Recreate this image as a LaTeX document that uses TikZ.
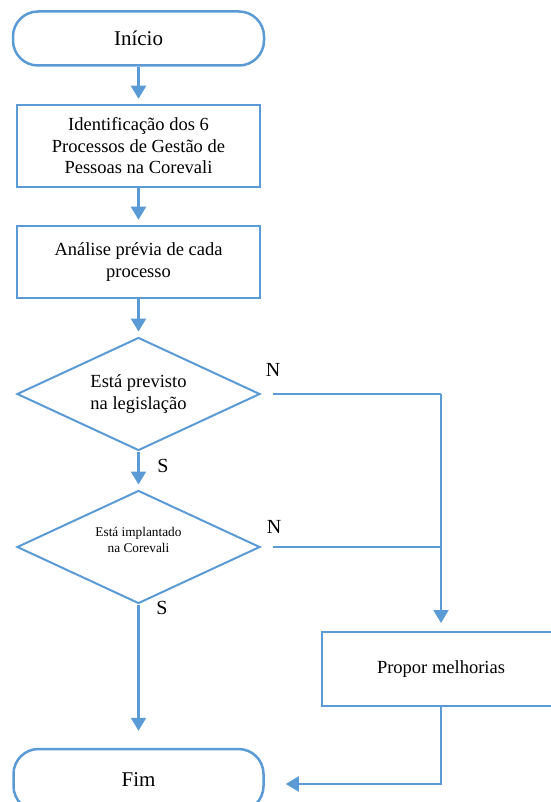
\documentclass[tikz,border=0pt]{standalone}
\usepackage{fontspec}
\setmainfont{Liberation Serif}
\usepackage{tikz}
\usetikzlibrary{shapes.geometric}
\usetikzlibrary{arrows.meta}
\definecolor{flowblue}{HTML}{5B9BD5}
\newcommand\bodyfont[0]{\fontsize{18.5}{21.5}\selectfont}

\tikzset{
  terminal/.style={draw=flowblue, line width=2.5pt, rounded corners=25pt, minimum width=251pt, minimum height=54pt, inner sep=0pt, font=\fontsize{21}{24}\selectfont},
  process/.style={draw=flowblue, line width=2.5pt, minimum width=243pt, inner sep=0pt, align=center, font=\bodyfont},
  decision/.style={draw=flowblue, line width=2pt, shape=diamond, aspect=2.15, minimum width=243pt, minimum height=113pt, inner sep=0pt, align=center, font=\bodyfont},
  flow/.style={draw=flowblue, line width=2.5pt, -{Triangle[width=15pt,length=13pt]}, shorten >=5pt},
  branch/.style={draw=flowblue, line width=2pt},
  answer/.style={font=\fontsize{20}{24}\selectfont}
}

\begin{document}
\begin{tikzpicture}[x=1pt,y=-1pt]
\useasboundingbox (0,0) rectangle (550,802);
\node[terminal] (inicio) at (138.5,38.5) {Início};
\node[process, minimum height=82pt] (identificacao) at (138.5,146) {Identificação dos 6\\Processos de Gestão de\\Pessoas na Corevali};
\node[process, minimum height=72pt] (analise) at (138.5,262) {Análise prévia de cada\\processo};
\node[decision] (previsto) at (138.5,394) {Está previsto\\na legislação};
\node[decision, font=\fontsize{13.3}{16}\selectfont, text depth=15pt] (implantado) at (138.5,547) {Está implantado\\na Corevali};
\node[process, line width=2pt, minimum width=238pt, minimum height=74pt] (propor) at (441,669) {Propor melhorias};
\node[terminal, minimum width=250pt, minimum height=62pt] (fim) at (138.5,780) {Fim};

\node[answer] (n1) at (273,370) {N};
\node[answer] (n2) at (274,527) {N};
\node[answer] (s1) at (163,466) {S};
\node[answer] (s2) at (162,608) {S};

\coordinate (j1) at (propor.north |- previsto.east);
\coordinate (j2) at (propor.north |- implantado.east);

\draw[flow] (inicio.south) -- (identificacao.north);
\draw[flow] (identificacao.south) -- (analise.north);
\draw[flow] (analise.south) -- (previsto.north);
\draw[flow] (previsto.south) -- (implantado.north);
\draw[flow, shorten >=17pt] (implantado.south) -- (fim.north);
%\draw[branch] (previsto.east) -- (j1);
\draw[branch] ([xshift=12pt]previsto.east) -- (j1);
\draw[branch] ([xshift=12pt]implantado.east) -- (j2);
\draw[flow, line width=2pt, shorten >=8pt] (j1) -- (propor.north);
\draw[flow, line width=2pt, shorten >=21pt] (propor.south) |- ([yshift=-4pt]fim.east);
\end{tikzpicture}
\end{document}
